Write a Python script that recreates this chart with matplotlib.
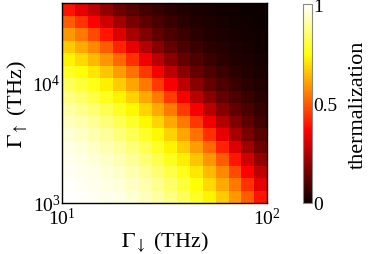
import numpy as np
import matplotlib
matplotlib.use('Agg')
import matplotlib.pyplot as plt

plt.rcParams['font.family'] = ['Liberation Serif', 'DejaVu Serif']
plt.rcParams['mathtext.fontset'] = 'stix'

# Γ↓ range (THz), Γ↑ range (THz)
gamma_down_range = [10, 100]
gamma_up_range = [1e3, 4.5e4]
n_cells = 16

# thermalization, rows from bottom (Γ↑ low) to top
thermalization = [
    [0.997, 0.993, 0.987, 0.979, 0.970, 0.957, 0.932, 0.907, 0.872, 0.835, 0.785, 0.728, 0.665, 0.591, 0.501, 0.393],
    [0.993, 0.988, 0.980, 0.972, 0.958, 0.940, 0.915, 0.885, 0.848, 0.803, 0.752, 0.690, 0.621, 0.544, 0.439, 0.332],
    [0.987, 0.980, 0.973, 0.960, 0.943, 0.920, 0.893, 0.857, 0.816, 0.767, 0.708, 0.644, 0.570, 0.474, 0.365, 0.266],
    [0.979, 0.972, 0.960, 0.944, 0.922, 0.898, 0.863, 0.825, 0.777, 0.721, 0.660, 0.587, 0.500, 0.395, 0.293, 0.207],
    [0.970, 0.958, 0.943, 0.922, 0.899, 0.866, 0.829, 0.784, 0.730, 0.671, 0.601, 0.520, 0.417, 0.315, 0.224, 0.152],
    [0.957, 0.940, 0.920, 0.898, 0.866, 0.831, 0.786, 0.735, 0.677, 0.610, 0.534, 0.434, 0.332, 0.237, 0.166, 0.121],
    [0.932, 0.915, 0.893, 0.863, 0.829, 0.786, 0.737, 0.680, 0.616, 0.544, 0.446, 0.344, 0.250, 0.177, 0.127, 0.089],
    [0.907, 0.885, 0.857, 0.825, 0.784, 0.735, 0.680, 0.618, 0.549, 0.453, 0.352, 0.259, 0.185, 0.132, 0.094, 0.068],
    [0.872, 0.848, 0.816, 0.777, 0.730, 0.677, 0.616, 0.549, 0.455, 0.356, 0.265, 0.191, 0.135, 0.098, 0.071, 0.049],
    [0.835, 0.803, 0.767, 0.721, 0.671, 0.610, 0.544, 0.453, 0.356, 0.267, 0.194, 0.137, 0.101, 0.073, 0.050, 0.038],
    [0.785, 0.752, 0.708, 0.660, 0.601, 0.534, 0.446, 0.352, 0.265, 0.194, 0.138, 0.102, 0.075, 0.051, 0.039, 0.027],
    [0.728, 0.690, 0.644, 0.587, 0.520, 0.434, 0.344, 0.259, 0.191, 0.137, 0.102, 0.075, 0.051, 0.039, 0.028, 0.020],
    [0.665, 0.621, 0.570, 0.500, 0.417, 0.332, 0.250, 0.185, 0.135, 0.101, 0.075, 0.051, 0.040, 0.028, 0.021, 0.014],
    [0.591, 0.544, 0.474, 0.395, 0.315, 0.237, 0.177, 0.132, 0.098, 0.073, 0.051, 0.039, 0.028, 0.021, 0.015, 0.009],
    [0.501, 0.439, 0.365, 0.293, 0.224, 0.166, 0.127, 0.094, 0.071, 0.050, 0.039, 0.028, 0.021, 0.015, 0.009, 0.007],
    [0.393, 0.332, 0.266, 0.207, 0.152, 0.121, 0.089, 0.068, 0.049, 0.038, 0.027, 0.020, 0.014, 0.009, 0.007, 0.005],
]

x_edges = np.logspace(np.log10(gamma_down_range[0]), np.log10(gamma_down_range[1]), n_cells + 1)
y_edges = np.logspace(np.log10(gamma_up_range[0]), np.log10(gamma_up_range[1]), n_cells + 1)

fig = plt.figure(figsize=(3.86, 2.55), dpi=100)
ax = fig.add_axes([0.1606, 0.2, 0.531, 0.784])
cax = fig.add_axes([0.785, 0.2, 0.023, 0.78])

mesh = ax.pcolormesh(x_edges, y_edges, np.array(thermalization), cmap='hot', vmin=0, vmax=1)
ax.set_xscale('log')
ax.set_yscale('log')
ax.set_xlim(gamma_down_range)
ax.set_ylim(gamma_up_range)
ax.set_xticks([10, 100])
ax.set_yticks([1e3, 1e4])
ax.minorticks_off()
ax.tick_params(direction='in', length=0, labelsize=14, pad=1)
ax.tick_params(axis='x', pad=3)
ax.set_xlabel(r'$\Gamma_\downarrow$ (THz)', fontsize=16, labelpad=1)
ax.set_ylabel(r'$\Gamma_\uparrow$ (THz)', fontsize=16, labelpad=2)
for s in ax.spines.values():
    s.set_linewidth(1.0)

cb = fig.colorbar(mesh, cax=cax, ticks=[0, 0.5, 1])
cb.ax.set_yticklabels(['0', '0.5', '1'])
cb.ax.tick_params(length=0, labelsize=14, pad=1)
cb.outline.set_edgecolor('#888888')
cb.outline.set_linewidth(0.8)
cb.set_label('thermalization', fontsize=16, labelpad=8)

fig.savefig('out.png', dpi=100)
